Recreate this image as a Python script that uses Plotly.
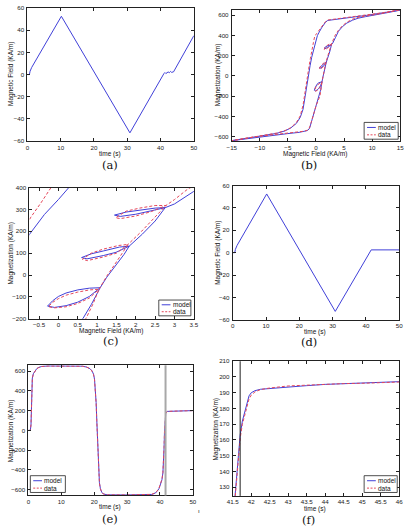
import plotly.graph_objects as go

# ---------------- data ----------------
# (a) applied magnetic field vs time
a_t = [0, 0.6, 0.8, 1.0, 1.3, 10.2, 30.8, 41.0, 41.3, 41.6, 41.9, 42.3, 42.6, 43.0, 43.3, 43.6, 43.9, 50]
a_h = [0, 0, 3, 5, 6.5, 52.5, -52.5, 0.8, 1.8, 0.9, 1.5, 2.4, 1.6, 2.8, 2.0, 2.6, 2.4, 35]

# (b)/(c) hysteresis, model (descending + ascending branch with minor loops)
b_model_h = [15, 12, 9, 7, 5, 3.5, 2.6, 2.1, 1.7, 1.35, 1.0, 0.6, 0.27, 0.0, -0.36, -0.76, -1.05, -1.3, -1.6, -1.9,
             -2.3, -2.8, -3.5, -4.5, -5.5, -7, -9, -11, -13, -15,
             -13, -11, -9, -7, -5, -3, -2, -1.5, -1.15, -0.9, -0.6, -0.3, 0.0, 0.3, 0.63, 0.85, 1.08,
             0.8, 0.5, 0.2, 0.0, -0.15, -0.28,
             -0.1, 0.2, 0.5, 0.8, 1.08,
             1.25, 1.5, 1.7, 1.83,
             1.58, 1.16, 0.85, 0.6,
             0.74, 1.16, 1.49, 1.83,
             2.17, 2.5, 2.76,
             2.5, 2.1, 1.75, 1.45,
             1.6, 2.0, 2.4, 2.76,
             3.0, 3.5, 4.0, 4.7, 5.5, 6.5, 7.5, 8.8, 11, 13, 15]
b_model_m = [650, 622, 598, 584, 572, 563, 557, 548, 530, 505, 475, 435, 400, 345, 277, 183, 100, 15, -110, -225,
             -330, -410, -470, -515, -543, -568, -588, -605, -622, -640,
             -625, -608, -593, -582, -570, -558, -550, -540, -520, -475, -410, -345, -295, -250, -200, -135, -58,
             -60, -68, -82, -98, -118, -142,
             -148, -140, -124, -98, -58,
             -10, 50, 95, 132,
             128, 110, 97, 80,
             74, 89, 104, 132,
             187, 247, 308,
             306, 298, 288, 274,
             268, 278, 293, 308,
             325, 382, 440, 486, 522, 550, 570, 585, 605, 628, 650]

b_data_h = [15, 12, 9, 7, 5, 3.5, 2.6, 2.1, 1.7, 1.35, 1.0, 0.6, 0.2, -0.19, -0.45, -0.71, -1.0, -1.3, -1.6, -1.9,
            -2.3, -2.8, -3.5, -4.5, -5.5, -7, -9, -11, -13, -15,
            -13, -11, -9, -7, -5, -3, -2, -1.5, -1.1, -0.85, -0.55, -0.25, 0.05, 0.38, 0.71, 0.9, 1.05,
            0.8, 0.5, 0.2, 0.0, -0.15, -0.26,
            -0.1, 0.2, 0.5, 0.8, 1.05,
            1.25, 1.5, 1.7, 1.8,
            1.55, 1.15, 0.85, 0.62,
            0.75, 1.15, 1.5, 1.8,
            2.15, 2.5, 2.78,
            2.5, 2.1, 1.75, 1.48,
            1.6, 2.0, 2.4, 2.78,
            3.0, 3.35, 4.0, 4.7, 5.5, 6.5, 7.5, 8.8, 11, 13, 15]
b_data_m = [655, 625, 603, 590, 578, 568, 560, 552, 536, 512, 485, 455, 420, 400, 330, 265, 170, 70, -40, -160,
            -290, -395, -462, -512, -540, -565, -585, -603, -621, -640,
            -622, -603, -590, -578, -566, -555, -546, -535, -505, -460, -400, -340, -290, -245, -200, -130, -65,
            -68, -78, -92, -108, -125, -145,
            -150, -145, -130, -105, -65,
            -5, 60, 110, 140,
            135, 118, 100, 72,
            66, 82, 100, 140,
            200, 265, 318,
            318, 306, 292, 262,
            258, 270, 290, 318,
            345, 394, 450, 495, 530, 560, 578, 590, 610, 630, 655]

# (d) applied magnetic field vs time
d_t = [0, 0.6, 0.8, 1.0, 1.3, 10.2, 30.8, 41.6, 50]
d_h = [0, 0, 3, 5, 6.5, 52.5, -52.5, 2.5, 2.5]

# (e)/(f) magnetization vs time
e_t = [0, 0.6, 0.8, 0.9, 1.0, 1.2, 1.5, 2.0, 2.5, 3.0, 4.0, 6, 10, 14, 16.5, 17.8, 18.7, 19.3, 19.8, 20.1,
       20.4, 20.6, 20.8, 21.0, 21.2, 21.4, 21.6, 21.9, 22.3, 22.8, 24, 30, 36, 37.5, 38.5, 39.1, 39.7, 40.2,
       40.6, 40.9, 41.1, 41.25, 41.38, 41.47, 41.53, 41.56, 41.6, 41.65, 41.7, 41.76, 41.82, 41.88, 41.94,
       42.0, 42.1, 42.25, 42.5, 43.0, 43.5, 44.0, 44.5, 45.0, 45.5, 46.0, 48, 50]
e_model = [0, 0, 60, 250, 440, 530, 573, 605, 623, 635, 647, 652, 653, 653, 650, 640, 625, 605, 570, 520,
           420, 280, 100, -100, -280, -430, -530, -590, -625, -643, -652, -653, -652, -648, -635, -618, -590, -550,
           -500, -430, -330, -180, -20, 80, 115, 124, 136, 150, 163, 172, 178, 184, 188,
           190, 191.3, 192.2, 192.7, 193.8, 194.5, 195.3, 196.0, 196.7, 197.2, 198.2, 199.5, 200.5]
e_data = [0, 0, 55, 240, 432, 525, 570, 603, 622, 634, 646, 651, 652, 652, 649, 639, 623, 602, 566, 515,
          415, 272, 92, -108, -288, -436, -534, -592, -626, -644, -652, -653, -652, -647, -633, -615, -586, -545,
          -495, -425, -325, -175, -15, 82, 114, 122, 133, 147, 161, 170, 176, 181, 186,
          188.5, 190.5, 192.0, 193.0, 194.3, 194.9, 195.4, 195.8, 196.0, 196.2, 196.5, 198.5, 200.0]
marker_time = 41.7

legend_names = ["model", "data"]

# ---------------- styling ----------------
W, H = 410, 531
BLUE = "#4040d8"
RED = "#e5475a"
AX = "#222222"
FONT = "Liberation Sans"
TICK = 6.2


def px(x):
    return x / W


def py(y):
    return 1 - y / H


# pixel boxes (left, top, right, bottom)
boxes = {
    1: (22, 4, 193, 139),
    2: (232, 6, 405, 139),
    3: (24, 186, 193, 319),
    4: (233, 184, 404, 320),
    5: (23, 366, 192, 498),
    6: (233, 362, 404, 498.5),
}

fig = go.Figure()


def add(i, x, y, color, dash=None, name=None):
    sfx = "" if i == 1 else str(i)
    fig.add_trace(go.Scatter(x=x, y=y, mode="lines", name=name, showlegend=False,
                             line=dict(color=color, width=1, dash=dash),
                             xaxis="x" + sfx, yaxis="y" + sfx))


add(1, a_t, a_h, BLUE, name="field")
add(2, b_model_h, b_model_m, BLUE, name=legend_names[0])
add(2, b_data_h, b_data_m, RED, "3px,2px", legend_names[1])
add(3, b_model_h, b_model_m, BLUE, name=legend_names[0])
add(3, b_data_h, b_data_m, RED, "3px,2px", legend_names[1])
add(4, d_t, d_h, BLUE, name="field")
add(5, e_t, e_model, BLUE, name=legend_names[0])
add(5, e_t, e_data, RED, "3px,2px", legend_names[1])
add(6, e_t, e_model, BLUE, name=legend_names[0])
add(6, e_t, e_data, RED, "3px,2px", legend_names[1])

axcfg = {
    1: dict(xr=[0, 50], xt=[0, 10, 20, 30, 40, 50], yr=[-60, 60], yt=[-60, -40, -20, 0, 20, 40, 60]),
    2: dict(xr=[-15, 15], xt=[-15, -10, -5, 0, 5, 10, 15], yr=[-645, 652], yt=[-600, -400, -200, 0, 200, 400, 600]),
    3: dict(xr=[-0.75, 3.5], xt=[-0.5, 0, 0.5, 1, 1.5, 2, 2.5, 3, 3.5], yr=[-200, 400], yt=[-200, -100, 0, 100, 200, 300, 400]),
    4: dict(xr=[0, 50], xt=[0, 10, 20, 30, 40, 50], yr=[-60, 60], yt=[-60, -40, -20, 0, 20, 40, 60]),
    5: dict(xr=[0, 50], xt=[0, 10, 20, 30, 40, 50], yr=[-658, 660], yt=[-600, -400, -200, 0, 200, 400, 600]),
    6: dict(xr=[41.5, 46], xt=[41.5, 42, 42.5, 43, 43.5, 44, 44.5, 45, 45.5, 46], yr=[124.5, 210], yt=[130, 140, 150, 160, 170, 180, 190, 200, 210]),
}


def lab(v):
    s = ("%g" % v)
    return s.replace("-", "\u2212")


common = dict(showline=True, mirror="ticks", ticks="inside", ticklen=3, tickwidth=0.8,
              linecolor=AX, linewidth=1, tickcolor=AX, showgrid=False, zeroline=False,
              tickfont=dict(family=FONT, size=TICK, color=AX), fixedrange=True)

layout = dict(width=W, height=H, margin=dict(l=0, r=0, t=0, b=0),
              paper_bgcolor="white", plot_bgcolor="white", showlegend=False)
for i, (l, t, r, b) in boxes.items():
    sfx = "" if i == 1 else str(i)
    c = axcfg[i]
    layout["xaxis" + sfx] = dict(common, domain=[px(l), px(r)], range=c["xr"], tickvals=c["xt"],
                                 ticktext=[lab(v) for v in c["xt"]], anchor="y" + sfx, ticklabelstandoff=0)
    layout["yaxis" + sfx] = dict(common, domain=[py(b), py(t)], range=c["yr"], tickvals=c["yt"],
                                 ticktext=[lab(v) for v in c["yt"]], anchor="x" + sfx, ticklabelstandoff=1)
fig.update_layout(**layout)

ann = []
shapes = []


def text(x, y, s, size=6.5, angle=0, family=FONT, xanchor="center"):
    ann.append(dict(x=px(x), y=py(y), xref="paper", yref="paper", text=s, showarrow=False,
                    textangle=angle, xanchor=xanchor, yanchor="middle",
                    font=dict(family=family, size=size, color="#111")))


# axis titles
text(107, 152, "time (s)")
text(5, 71, "Magnetic Field (KA/m)", angle=-90)
text(318, 152, "Magnetic Field (KA/m)")
text(218, 72, "Magnetization (KA/m)", angle=-90)
text(108, 331, "Magnetic Field (KA/m)")
text(5, 252, "Magnetization (KA/m)", angle=-90)
text(318, 332, "time (s)")
text(217, 252, "Magnetic Field (KA/m)", angle=-90)
text(107, 510, "time (s)")
text(5, 432, "Magnetization (KA/m)", angle=-90)
text(318, 511.5, "time (s)")
text(216, 431, "Magnetization (KA/m)", angle=-90)

# captions
for cx, cy, s in [(107, 163, "(a)"), (311, 163, "(b)"), (107, 341, "(c)"),
                  (311, 343, "(d)"), (107, 522, "(e)"), (311, 523, "(f)")]:
    text(cx, cy, s, size=11.5, family="DejaVu Serif")
text(198, 514, "ı", size=6)

# vertical markers
shapes.append(dict(type="line", xref="x5", yref="y5 domain", x0=marker_time, x1=marker_time, y0=0, y1=1,
                   line=dict(color="#a8a8a8", width=2)))
shapes.append(dict(type="line", xref="x6", yref="y6 domain", x0=marker_time, x1=marker_time, y0=0, y1=1,
                   line=dict(color="#222", width=1)))


def legend(l, t, r, b):
    shapes.append(dict(type="rect", xref="paper", yref="paper", x0=px(l), x1=px(r), y0=py(b), y1=py(t),
                       fillcolor="white", line=dict(color=AX, width=0.8), layer="above"))
    rows = [t + (b - t) * 0.3, t + (b - t) * 0.74]
    for (yy, col, dash, nm) in [(rows[0], BLUE, "solid", legend_names[0]), (rows[1], RED, "2px,1.5px", legend_names[1])]:
        shapes.append(dict(type="line", xref="paper", yref="paper", x0=px(l + 3), x1=px(l + 12), y0=py(yy), y1=py(yy),
                           line=dict(color=col, width=1, dash=dash), layer="above"))
        text(l + 12.5, yy, nm, size=6.5, xanchor="left")


legend(368, 120, 403, 137)
legend(157, 300, 190, 316)
legend(25, 478, 61, 495)
legend(368, 478, 402, 495)

fig.update_layout(annotations=ann, shapes=shapes)
fig.write_html("out.html")
